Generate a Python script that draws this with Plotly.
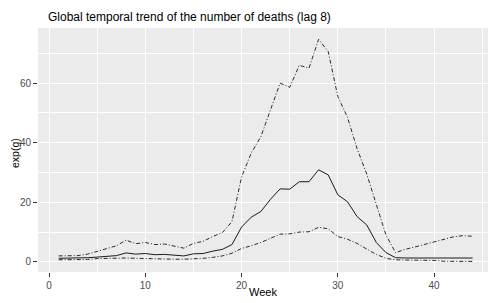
import plotly.graph_objects as go

weeks = list(range(1, 45))

upper = [2.0, 2.0, 2.1, 2.6, 3.6, 4.6, 5.4, 7.3, 6.1, 6.5,
         5.8, 6.0, 5.3, 4.6, 6.2, 6.9, 8.5, 9.8, 13.5, 28.5,
         36.5, 42.0, 51.0, 60.0, 58.6, 66.0, 65.0, 74.7, 70.6, 55.5,
         48.5, 38.0, 29.5, 19.5, 9.0, 3.1, 4.2, 5.0, 5.8, 6.7,
         7.6, 8.4, 8.8, 8.6]

median = [1.2, 1.2, 1.2, 1.4, 1.6, 1.8, 2.1, 3.0, 2.6, 2.8,
          2.4, 2.5, 2.2, 2.0, 2.7, 2.8, 3.6, 4.2, 5.8, 11.7,
          15.0, 16.9, 21.0, 24.5, 24.4, 26.9, 26.9, 30.9, 29.2, 22.5,
          20.2, 15.2, 12.4, 6.5, 3.1, 1.4, 1.3, 1.3, 1.3, 1.3,
          1.3, 1.3, 1.3, 1.3]

lower = [0.7, 0.7, 0.7, 0.8, 1.1, 1.2, 1.2, 1.3, 1.2, 1.1,
         0.9, 0.9, 0.9, 0.9, 1.0, 1.2, 1.5, 2.0, 2.9, 4.5,
         5.4, 6.5, 7.9, 9.3, 9.4, 10.0, 10.1, 11.6, 11.1, 8.5,
         7.6, 6.2, 4.3, 2.5, 1.2, 0.7, 0.6, 0.6, 0.55, 0.5,
         0.2, 0.15, 0.15, 0.15]

x_ticks = [0, 10, 20, 30, 40]
y_ticks = [0, 20, 40, 60]

title_text = "Global temporal trend of the number of deaths (lag 8)"
x_title = "Week"
y_title = "exp(g)"

FONT = "Liberation Sans, Arial, sans-serif"
dash_pattern = "4px,2px,1px,2px"
X_RANGE = [-1.15, 45.6]

fig = go.Figure()
fig.add_trace(go.Scatter(x=weeks, y=upper, mode="lines",
                         line=dict(color="#2a2a2a", width=1, dash=dash_pattern),
                         showlegend=False, hoverinfo="skip"))
fig.add_trace(go.Scatter(x=weeks, y=median, mode="lines",
                         line=dict(color="#1a1a1a", width=1),
                         showlegend=False, hoverinfo="skip"))
fig.add_trace(go.Scatter(x=weeks, y=lower, mode="lines",
                         line=dict(color="#2a2a2a", width=1, dash=dash_pattern),
                         showlegend=False, hoverinfo="skip"))

fig.update_layout(
    width=488, height=303,
    margin=dict(l=38, r=0, t=28, b=31),
    paper_bgcolor="white",
    plot_bgcolor="#EBEBEB",
    font=dict(family=FONT, color="#4D4D4D", size=10),
    xaxis=dict(range=X_RANGE, tickvals=x_ticks, ticks="outside",
               ticklen=4, tickcolor="#333333", tickwidth=1,
               showgrid=True, gridcolor="white", gridwidth=1.1,
               minor=dict(dtick=5, tick0=0, showgrid=True, gridcolor="white",
                          gridwidth=0.5, ticks=""),
               zeroline=False, showline=False,
               tickfont=dict(size=10, color="#4D4D4D")),
    yaxis=dict(range=[-3.4, 78.5], tickvals=y_ticks, ticks="outside",
               ticklen=4, tickcolor="#333333", tickwidth=1,
               showgrid=True, gridcolor="white", gridwidth=1.1,
               minor=dict(dtick=10, tick0=0, showgrid=True, gridcolor="white",
                          gridwidth=0.5, ticks=""),
               zeroline=False, showline=False,
               tickfont=dict(size=10, color="#4D4D4D")),
    annotations=[
        dict(text=title_text, xref="paper", x=(189 - 38) / 450, xanchor="center",
             yref="paper", y=1 + (28 - 17) / 244, yanchor="middle",
             showarrow=False, font=dict(family=FONT, size=12, color="black")),
        dict(text=x_title, xref="x", x=(X_RANGE[0] + X_RANGE[1]) / 2, yref="paper",
             y=-(292 - 272) / 244, yanchor="middle", xanchor="center",
             showarrow=False, font=dict(family=FONT, size=11, color="black")),
        dict(text=y_title, xref="paper", x=-(38 - 15) / 450, xanchor="center",
             yref="paper", y=(272 - 153) / 244, yanchor="middle", textangle=-90,
             showarrow=False, font=dict(family=FONT, size=10.5, color="black")),
    ],
)

fig.write_html(
    "out.html",
    config={"displayModeBar": False},
    post_script="document.body.style.margin='0';document.body.style.overflow='hidden';",
)
